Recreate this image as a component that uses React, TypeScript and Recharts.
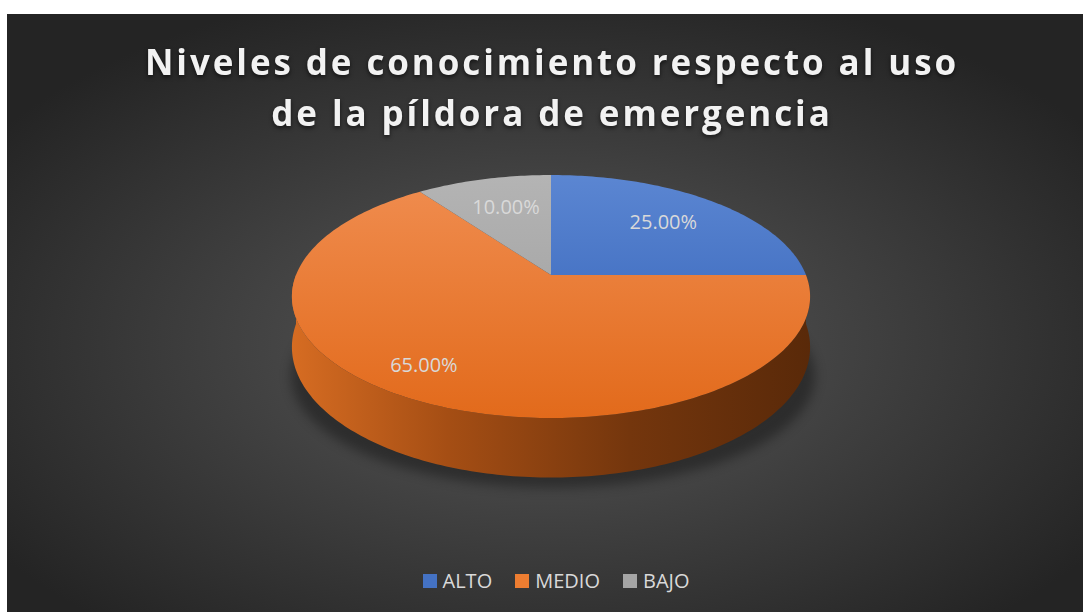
import { Legend, Pie, PieChart } from "recharts";

const categories = ["ALTO", "MEDIO", "BAJO"];
const values = [25, 65, 10];
const colors = ["#4472c4", "#ed7d31", "#a5a5a5"];
const topColors = [
	["#5b86d2", "#2e5db4"],
	["#f08d50", "#e26a1b"],
	["#b4b4b4", "#9a9a9a"],
];

const data = categories.map((name, i) => ({ name, value: values[i] }));

const W = 1076;
const H = 598;
const TILT = 0.4615;
const PERSP = 0.177;
const DEPTH = 49;

const rad = (d: number) => (d * Math.PI) / 180;

// circle point -> tilted disk with a bit of perspective
function project(cx: number, cy: number, r: number, deg: number, fx = 1, fy = fx) {
	const t = rad(deg);
	const w = 1 / (1 + PERSP * Math.sin(t));
	return [cx + r * fx * Math.cos(t) * w, cy - r * TILT * fy * Math.sin(t) * w];
}

function arcPoints(cx: number, cy: number, r: number, a: number, b: number, dy = 0) {
	const pts: number[][] = [];
	const n = Math.max(2, Math.ceil(Math.abs(b - a)));
	for (let i = 0; i <= n; i++) {
		const d = a + ((b - a) * i) / n;
		const [x, y] = project(cx, cy, r, d);
		const w = 1 / (1 + PERSP * Math.sin(rad(d)));
		pts.push([x, y + dy * w]);
	}
	return pts;
}

function frontParts(a: number, b: number) {
	const lo = Math.min(a, b);
	const hi = Math.max(a, b);
	const out: number[][] = [];
	for (let k = -2; k <= 1; k++) {
		const s = Math.max(lo, -180 + 360 * k);
		const e = Math.min(hi, 360 * k);
		if (e > s) out.push([s, e]);
	}
	return out;
}

const toPath = (pts: number[][]) =>
	pts.map((p, i) => `${i ? "L" : "M"}${p[0].toFixed(2)},${p[1].toFixed(2)}`).join("");

function Slice3D(props: any) {
	const { cx, cy, outerRadius, startAngle, endAngle } = props;
	const name = props.payload?.name ?? props.name;
	const idx = Math.max(0, categories.indexOf(name));
	const top = [[cx, cy], ...arcPoints(cx, cy, outerRadius, startAngle, endAngle)];
	const walls = frontParts(startAngle, endAngle).map(([s, e]) => {
		const upper = arcPoints(cx, cy, outerRadius, s, e);
		const lower = arcPoints(cx, cy, outerRadius, e, s, DEPTH);
		return toPath([...upper, ...lower]) + "Z";
	});
	return (
		<g>
			{walls.map((d, i) => (
				<path key={i} d={d} fill={`url(#wall${idx})`} stroke="none" />
			))}
			<path d={toPath(top) + "Z"} fill={`url(#top${idx})`} stroke="none" />
		</g>
	);
}

function renderLabel(props: any) {
	const { cx, cy, outerRadius, midAngle, percent } = props;
	const s = Math.sin(rad(midAngle));
	const [x, y] = project(cx, cy, outerRadius, midAngle, 0.8 - 0.14 * s, 0.72);
	return (
		<text
			x={x}
			y={y}
			textAnchor="middle"
			dominantBaseline="central"
			fill="#d9d9d9"
			fontSize={20}
			fontFamily="'Open Sans', sans-serif"
		>
			{`${(percent * 100).toFixed(2)}%`}
		</text>
	);
}

function LegendContent() {
	return (
		<div
			style={{
				display: "flex",
				justifyContent: "center",
				gap: 23,
				paddingLeft: 22,
				fontFamily: "'Open Sans', sans-serif",
				fontSize: 20,
				color: "#d9d9d9",
			}}
		>
			{categories.map((name, i) => (
				<div key={name} style={{ display: "flex", alignItems: "center", gap: 6 }}>
					<span
						style={{
							display: "inline-block",
							width: 14,
							height: 14,
							background: colors[i],
						}}
					/>
					<span>{name}</span>
				</div>
			))}
		</div>
	);
}

export default function App() {
	return (
		<div style={{ position: "absolute", left: 7, top: 14, width: W, height: H }}>
			<PieChart width={W} height={H} margin={{ top: 0, right: 0, bottom: 0, left: 0 }}>
				<defs>
					<radialGradient id="bg" cx="0.5" cy="0.55" r="0.62">
						<stop offset="0" stopColor="#5a5a5a" />
						<stop offset="1" stopColor="#242424" />
					</radialGradient>
					{topColors.map((c, i) => (
						<linearGradient
							key={i}
							id={`top${i}`}
							gradientUnits="userSpaceOnUse"
							x1="0"
							y1="161"
							x2="0"
							y2="405"
						>
							<stop offset="0" stopColor={c[0]} />
							<stop offset="1" stopColor={c[1]} />
						</linearGradient>
					))}
					{[0, 1, 2].map((i) => (
						<linearGradient
							key={i}
							id={`wall${i}`}
							gradientUnits="userSpaceOnUse"
							x1="285"
							y1="0"
							x2="805"
							y2="0"
						>
							<stop offset="0" stopColor={i === 1 ? "#d66c22" : i === 0 ? "#2a4f93" : "#7d7d7d"} />
							<stop offset="0.3" stopColor={i === 1 ? "#a54e14" : i === 0 ? "#223f77" : "#666666"} />
							<stop offset="0.65" stopColor={i === 1 ? "#74360d" : i === 0 ? "#1a305b" : "#4f4f4f"} />
							<stop offset="1" stopColor={i === 1 ? "#592909" : i === 0 ? "#142646" : "#3d3d3d"} />
						</linearGradient>
					))}
					<filter id="shadow" x="-20%" y="-20%" width="140%" height="140%">
						<feGaussianBlur stdDeviation="6" />
					</filter>
				</defs>
				<rect x={0} y={0} width={W} height={H} fill="url(#bg)" />
				<ellipse cx={546} cy={362} rx={262} ry={112} fill="#000" opacity={0.35} filter="url(#shadow)" />
				<text
					x={544}
					textAnchor="middle"
					fill="#f2f2f2"
					fontSize={35}
					fontWeight={700}
					letterSpacing={2.9}
					fontFamily="'Open Sans', sans-serif"
					style={{ filter: "drop-shadow(0px 2px 2px rgba(0,0,0,0.6))" }}
				>
					<tspan x={545} y={61}>
						Niveles de conocimiento respecto al uso
					</tspan>
					<tspan x={545} y={112}>
						de la píldora de emergencia
					</tspan>
				</text>
				<Pie
					data={data}
					dataKey="value"
					nameKey="name"
					cx={544}
					cy={261}
					outerRadius={255}
					startAngle={90}
					endAngle={-270}
					stroke="none"
					shape={Slice3D}
					label={renderLabel}
					labelLine={false}
					isAnimationActive={false}
				/>
				<Legend
					content={LegendContent}
					wrapperStyle={{ position: "absolute", top: 553, left: 0, width: W }}
				/>
			</PieChart>
		</div>
	);
}
